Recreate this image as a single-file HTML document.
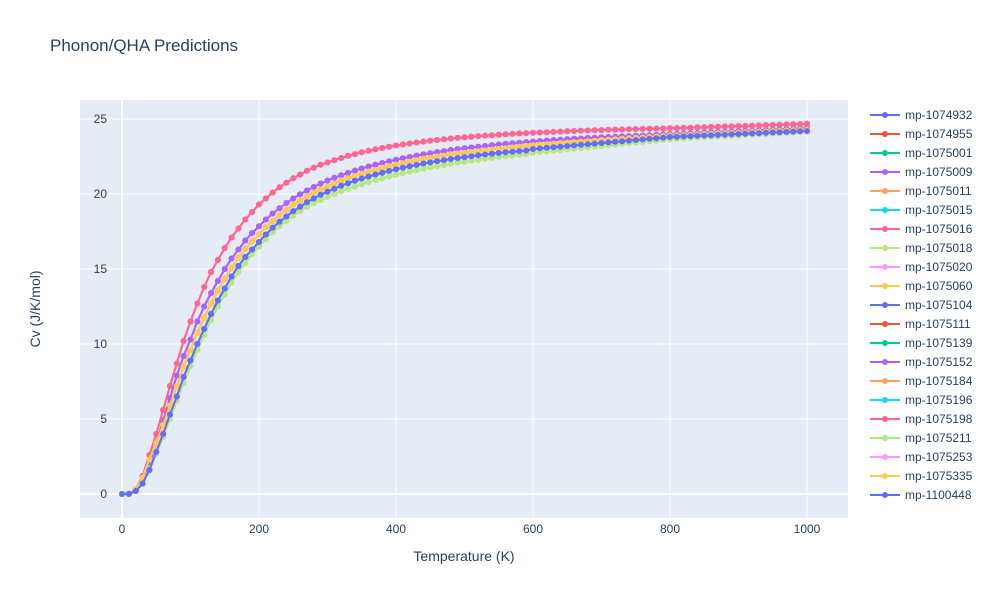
<!DOCTYPE html>
<html><head><meta charset="utf-8"><style>
body{margin:0;background:#fff;}
svg text{font-family:"Liberation Sans",sans-serif;fill:#2a3f5f;}
</style></head><body>
<svg id="chart" width="1000" height="600" xmlns="http://www.w3.org/2000/svg">
<rect width="1000" height="600" fill="#fff"/>
<text x="50" y="51" font-size="17">Phonon/QHA Predictions</text>
<rect x="80" y="100" width="768" height="418" fill="#e5ecf6"/>
<g id="grid"></g><g id="series"></g><g id="legend"></g>
<text x="464" y="561" font-size="14" text-anchor="middle">Temperature (K)</text>
<text transform="translate(40,309) rotate(-90)" font-size="14" text-anchor="middle">Cv (J/K/mol)</text>
</svg>
<script>
const temps=[0,10,20,30,40,50,60,70,80,90,100,110,120,130,140,150,160,170,180,190,200,210,220,230,240,250,260,270,280,290,300,310,320,330,340,350,360,370,380,390,400,410,420,430,440,450,460,470,480,490,500,510,520,530,540,550,560,570,580,590,600,610,620,630,640,650,660,670,680,690,700,710,720,730,740,750,760,770,780,790,800,810,820,830,840,850,860,870,880,890,900,910,920,930,940,950,960,970,980,990,1000];
const cvHigh=[0,0.02,0.3,1.2,2.6,4.0,5.6,7.2,8.7,10.2,11.5,12.7,13.8,14.8,15.6,16.4,17.1,17.7,18.3,18.8,19.3,19.7,20.1,20.45,20.75,21.05,21.3,21.55,21.75,21.95,22.1,22.25,22.4,22.55,22.65,22.78,22.88,22.98,23.07,23.15,23.23,23.3,23.37,23.43,23.49,23.55,23.6,23.65,23.7,23.74,23.78,23.82,23.86,23.89,23.92,23.95,23.98,24.01,24.04,24.06,24.08,24.1,24.12,24.14,24.16,24.18,24.2,24.22,24.23,24.25,24.26,24.28,24.29,24.3,24.32,24.33,24.34,24.35,24.36,24.37,24.38,24.39,24.41,24.42,24.44,24.45,24.47,24.48,24.5,24.51,24.53,24.54,24.56,24.57,24.59,24.6,24.62,24.63,24.65,24.66,24.68];
const cvMidHigh=[0,0.02,0.25,0.9,2.0,3.4,4.9,6.4,7.9,9.2,10.3,11.5,12.5,13.4,14.2,15.0,15.7,16.3,16.9,17.4,17.85,18.3,18.7,19.05,19.4,19.7,19.98,20.23,20.47,20.7,20.9,21.08,21.25,21.41,21.56,21.7,21.83,21.95,22.07,22.18,22.28,22.38,22.47,22.56,22.64,22.72,22.79,22.86,22.93,22.99,23.05,23.1,23.15,23.2,23.25,23.3,23.34,23.38,23.42,23.46,23.5,23.53,23.56,23.59,23.62,23.65,23.68,23.7,23.73,23.75,23.78,23.8,23.82,23.84,23.86,23.88,23.9,23.92,23.94,23.96,23.98,24.0,24.02,24.04,24.06,24.08,24.1,24.12,24.14,24.16,24.18,24.2,24.22,24.24,24.26,24.28,24.3,24.32,24.34,24.36,24.38];
const cvMid=[0,0.02,0.3,1.1,2.3,3.4,4.6,5.9,7.2,8.5,9.6,10.75,11.75,12.7,13.55,14.35,15.1,15.75,16.35,16.85,17.3,17.8,18.2,18.6,18.95,19.3,19.55,19.85,20.1,20.3,20.5,20.7,20.9,21.05,21.2,21.35,21.5,21.6,21.75,21.85,21.95,22.05,22.15,22.25,22.35,22.4,22.5,22.55,22.65,22.7,22.75,22.8,22.85,22.9,22.95,23.0,23.05,23.1,23.15,23.2,23.25,23.28,23.32,23.35,23.39,23.42,23.46,23.49,23.52,23.55,23.59,23.62,23.65,23.68,23.71,23.74,23.77,23.8,23.83,23.86,23.89,23.91,23.93,23.95,23.97,23.99,24.01,24.03,24.05,24.07,24.09,24.11,24.13,24.15,24.17,24.19,24.21,24.23,24.25,24.27,24.29];
const cvMidLow=[0,0.01,0.2,0.7,1.6,2.8,4.0,5.3,6.5,7.8,8.9,10.0,11.0,12.0,12.9,13.7,14.5,15.2,15.8,16.3,16.8,17.3,17.75,18.15,18.5,18.85,19.15,19.45,19.7,19.95,20.15,20.35,20.55,20.72,20.88,21.03,21.17,21.3,21.42,21.54,21.65,21.75,21.85,21.94,22.03,22.11,22.19,22.26,22.33,22.4,22.46,22.52,22.58,22.63,22.68,22.73,22.78,22.82,22.86,22.9,23.0,23.04,23.08,23.12,23.16,23.2,23.24,23.28,23.32,23.36,23.4,23.44,23.48,23.52,23.56,23.6,23.64,23.68,23.72,23.76,23.8,23.82,23.84,23.86,23.88,23.9,23.92,23.94,23.96,23.98,24.0,24.02,24.04,24.06,24.08,24.1,24.12,24.14,24.16,24.18,24.2];
const cvLow=[0,0.01,0.3,0.8,1.7,2.7,3.8,5.0,6.2,7.4,8.5,9.6,10.6,11.6,12.5,13.3,14.1,14.8,15.4,16.0,16.5,17.0,17.45,17.85,18.2,18.55,18.85,19.15,19.4,19.6,19.8,20.0,20.18,20.35,20.5,20.65,20.8,20.93,21.05,21.17,21.28,21.39,21.49,21.59,21.68,21.77,21.85,21.93,22.01,22.08,22.15,22.22,22.28,22.34,22.4,22.46,22.51,22.56,22.61,22.66,22.75,22.8,22.84,22.89,22.93,22.98,23.02,23.07,23.11,23.16,23.2,23.25,23.29,23.34,23.38,23.43,23.47,23.52,23.56,23.61,23.65,23.68,23.7,23.73,23.75,23.78,23.8,23.83,23.85,23.88,23.9,23.93,23.95,23.98,24.0,24.03,24.05,24.08,24.1,24.13,24.15];
const seriesNames=["mp-1074932","mp-1074955","mp-1075001","mp-1075009","mp-1075011","mp-1075015","mp-1075016","mp-1075018","mp-1075020","mp-1075060","mp-1075104","mp-1075111","mp-1075139","mp-1075152","mp-1075184","mp-1075196","mp-1075198","mp-1075211","mp-1075253","mp-1075335","mp-1100448"];
const seriesData=[cvMidLow,cvMid,cvMidLow,cvMidHigh,cvMid,cvMidLow,cvHigh,cvLow,cvMid,cvMid,cvMidLow,cvMid,cvMidLow,cvMidHigh,cvMid,cvMidLow,cvHigh,cvLow,cvMidLow,cvMid,cvMidLow];
const xTicks=[0,200,400,600,800,1000];
const yTicks=[0,5,10,15,20,25];
const colors=["#636efa","#EF553B","#00cc96","#ab63fa","#FFA15A","#19d3f3","#FF6692","#B6E880","#FF97FF","#FECB52"];
const NS="http://www.w3.org/2000/svg";
const xs=v=>122+(v/1000)*685;
const ys=v=>494-v*15;
function mk(tag,attrs,parent){const e=document.createElementNS(NS,tag);for(const k in attrs)e.setAttribute(k,attrs[k]);parent.appendChild(e);return e;}
const grid=document.getElementById('grid');
xTicks.forEach(t=>{
  const l=mk('line',{x1:xs(t),x2:xs(t),y1:100,y2:518,stroke:'#fff','stroke-width':t===0?2:1},grid);
  
  
  const tx=mk('text',{x:xs(t),y:533,'font-size':12,'text-anchor':'middle'},grid);tx.textContent=t;
  
  
});
yTicks.forEach(t=>{
  const l=mk('line',{x1:80,x2:848,y1:ys(t),y2:ys(t),stroke:'#fff','stroke-width':t===0?2:1},grid);
  
  
  const tx=mk('text',{x:107,y:ys(t)+4,'font-size':12,'text-anchor':'end'},grid);tx.textContent=t;
  
  
});
const sg=document.getElementById('series'),lg=document.getElementById('legend');
seriesNames.forEach((nm,i)=>{
  const c=colors[i%10],d=seriesData[i];
  const g=mk('g',{},sg);
  
  
  const pts=temps.map((t,j)=>xs(t)+','+ys(d[j])).join(' ');
  mk('polyline',{points:pts,fill:'none',stroke:c,'stroke-width':2},g);
  temps.forEach((t,j)=>{
    const p=mk('circle',{cx:xs(t),cy:ys(d[j]),r:3,fill:c},g);
    
    
  });
  const y=115+i*19;
  const le=mk('g',{},lg);
  
  
  mk('line',{x1:870,x2:900,y1:y,y2:y,stroke:c,'stroke-width':2},le);
  mk('circle',{cx:885,cy:y,r:3,fill:c},le);
  const tx=mk('text',{x:905,y:y+4,'font-size':12},le);tx.textContent=nm;
});
</script>
</body></html>
